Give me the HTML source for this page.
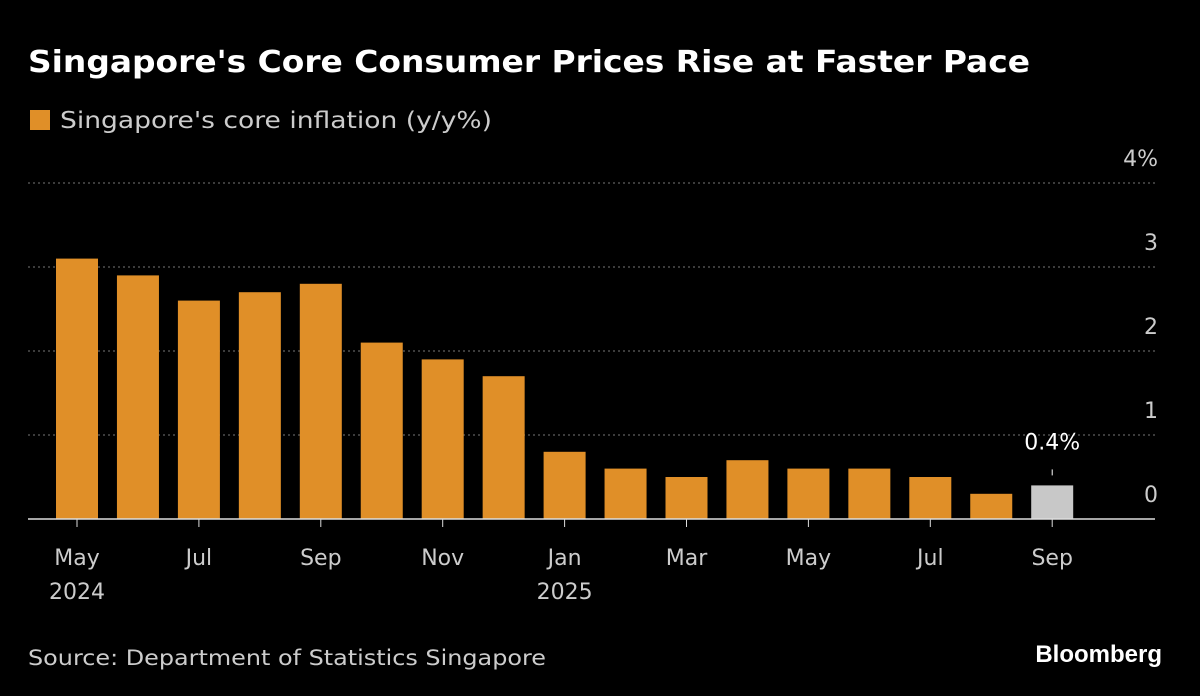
<!DOCTYPE html>
<html><head><meta charset="utf-8"><style>
html,body{margin:0;background:#000;width:1200px;height:696px;overflow:hidden;font-family:"DejaVu Sans","Liberation Sans",sans-serif;color:#fff}
svg{display:block}
</style></head><body>
<svg width="1200" height="696">
<text x="28" y="72" font-size="30" font-weight="bold" fill="#fff" textLength="1002" lengthAdjust="spacingAndGlyphs">Singapore's Core Consumer Prices Rise at Faster Pace</text>
<rect x="30" y="110" width="20" height="20" fill="#e08f28"/>
<text x="60" y="128" font-size="23" fill="#ccc" textLength="432" lengthAdjust="spacingAndGlyphs">Singapore's core inflation (y/y%)</text>
<g id="grid"></g><g id="bars"></g><g id="xl"></g>
<text x="28" y="665" font-size="21" fill="#ccc" textLength="518" lengthAdjust="spacingAndGlyphs">Source: Department of Statistics Singapore</text>
<text x="1162" y="662" font-size="24" font-weight="bold" fill="#fff" text-anchor="end" font-family="Liberation Sans, sans-serif">Bloomberg</text>
</svg>
<script>
const categories=["May 2024","Jun","Jul","Aug","Sep","Oct","Nov","Dec","Jan 2025","Feb","Mar","Apr","May","Jun","Jul","Aug","Sep"];
const values=[3.1,2.9,2.6,2.7,2.8,2.1,1.9,1.7,0.8,0.6,0.5,0.7,0.6,0.6,0.5,0.3,0.4];
const yTicks=[0,1,2,3,4];
const xLabels=[[0,"May","2024"],[2,"Jul",""],[4,"Sep",""],[6,"Nov",""],[8,"Jan","2025"],[10,"Mar",""],[12,"May",""],[14,"Jul",""],[16,"Sep",""]];
const NS="http://www.w3.org/2000/svg";
const y=v=>519-v*84, x=i=>56+i*60.95;
function mk(t,a,p){const e=document.createElementNS(NS,t);for(const k in a)e.setAttribute(k,a[k]);p.appendChild(e);return e;}
const g=document.getElementById('grid'),b=document.getElementById('bars'),xl=document.getElementById('xl');
yTicks.forEach(v=>{
 if(v>0){const l=mk('line',{x1:28,x2:1155,y1:y(v),y2:y(v),stroke:'#777','stroke-dasharray':'2,3'},g);
 
 }
 const t=mk('text',{x:1158,y:y(v)-17,'font-size':22,fill:'#ccc','text-anchor':'end'},g);t.textContent=v+(v==4?'%':'');
 
 
});
values.forEach((v,i)=>{
 const last=i==values.length-1;
 const r=mk('rect',{x:x(i),y:y(v),width:42,height:v*84,fill:last?'#c8c8c8':'#e08f28'},b);
 
 
 if(last){
  const t=mk('text',{x:x(i)+21,y:y(v)-36,'font-size':22,fill:'#fff','text-anchor':'middle'},b);t.textContent=v+'%';
  
  
  mk('line',{x1:x(i)+21,x2:x(i)+21,y1:y(v)-16,y2:y(v)-10,stroke:'#fff'},b);
 }
});
const ax=mk('line',{x1:28,x2:1155,y1:519,y2:519,stroke:'#ddd','stroke-width':1.5},xl);


xLabels.forEach(([i,a,c])=>{
 mk('line',{x1:x(i)+21,x2:x(i)+21,y1:519,y2:527,stroke:'#ddd'},xl);
 const t=mk('text',{x:x(i)+21,y:565,'font-size':22,fill:'#ccc','text-anchor':'middle'},xl);t.textContent=a;
 
 
 if(c){const t2=mk('text',{x:x(i)+21,y:599,'font-size':22,fill:'#ccc','text-anchor':'middle'},xl);t2.textContent=c;
 
 }
});
</script>
</body></html>
